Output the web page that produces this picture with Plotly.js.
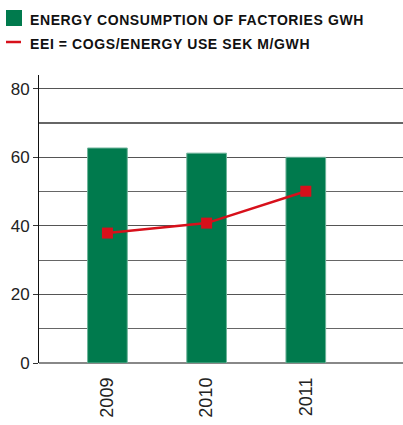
<!DOCTYPE html>
<html>
<head>
<meta charset="utf-8">
<script src="https://cdn.plot.ly/plotly-3.0.1.min.js"></script>
<style>html,body{margin:0;padding:0;background:#fff;}#chart{width:403px;height:425px;}</style>
</head>
<body>
<div id="chart"></div>
<script>
var years = ["2009", "2010", "2011"];
var energyGWh = [62.7, 61.2, 60.0];
var eeiSekMPerGWh = [37.9, 40.8, 50.1];
var legendLabels = ["ENERGY CONSUMPTION OF FACTORIES GWH", "EEI = COGS/ENERGY USE SEK M/GWH"];

var green = "#007a4d";
var red = "#d7101b";

var traces = [
  {
    type: "bar",
    x: years,
    y: energyGWh,
    width: 0.4,
    marker: {color: green, line: {color: "#6db399", width: 1}},
    hoverinfo: "none",
    showlegend: false
  },
  {
    type: "scatter",
    mode: "lines+markers",
    x: years,
    y: eeiSekMPerGWh,
    line: {color: red, width: 2.5},
    marker: {symbol: "square", size: 11, color: red},
    hoverinfo: "none",
    showlegend: false
  }
];

var legStyle = "letter-spacing:0.6px";
var layout = {
  width: 403,
  height: 425,
  margin: {l: 39, r: 0, t: 75, b: 62},
  paper_bgcolor: "#fff",
  plot_bgcolor: "#fff",
  font: {family: "Liberation Sans, Arial, sans-serif", color: "#222"},
  xaxis: {
    type: "category",
    range: [-0.69, 2.98],
    showgrid: false,
    showline: false,
    ticks: "",
    tickangle: -90,
    ticklabelstandoff: 10,
    tickfont: {size: 18, color: "#222"},
    zeroline: false
  },
  yaxis: {
    range: [0, 84],
    tickvals: [0, 20, 40, 60, 80],
    showgrid: true,
    gridcolor: "#555",
    gridwidth: 1.2,
    minor: {tickvals: [10, 30, 50, 70], showgrid: true, gridcolor: "#666", gridwidth: 1.2},
    showline: true,
    linecolor: "#111",
    linewidth: 1,
    ticks: "outside",
    ticklen: 5,
    tickcolor: "#333",
    tickwidth: 1,
    tickfont: {size: 17, color: "#222"},
    zeroline: true,
    zerolinecolor: "#888",
    zerolinewidth: 1.5
  },
  shapes: [
    {type: "rect", xref: "paper", yref: "paper", x0: -33/364, x1: -17/364, y0: 1 + (75-26)/288, y1: 1 + (75-10)/288, fillcolor: green, line: {width: 0}},
    {type: "line", xref: "paper", yref: "paper", x0: -33/364, x1: -18/364, y0: 1 + (75-42)/288, y1: 1 + (75-42)/288, line: {color: red, width: 2.5}}
  ],
  annotations: [
    {xref: "paper", yref: "paper", x: -11/364, y: 1 + (75-20.5)/288, xanchor: "left", yanchor: "middle", showarrow: false,
     text: "<b><span style='" + legStyle + "'>" + legendLabels[0] + "</span></b>", font: {size: 14, color: "#111"}},
    {xref: "paper", yref: "paper", x: -11/364, y: 1 + (75-44)/288, xanchor: "left", yanchor: "middle", showarrow: false,
     text: "<b><span style='" + legStyle + "'>" + legendLabels[1] + "</span></b>", font: {size: 14, color: "#111"}}
  ]
};

Plotly.newPlot("chart", traces, layout, {displayModeBar: false, staticPlot: true});
</script>
</body>
</html>
